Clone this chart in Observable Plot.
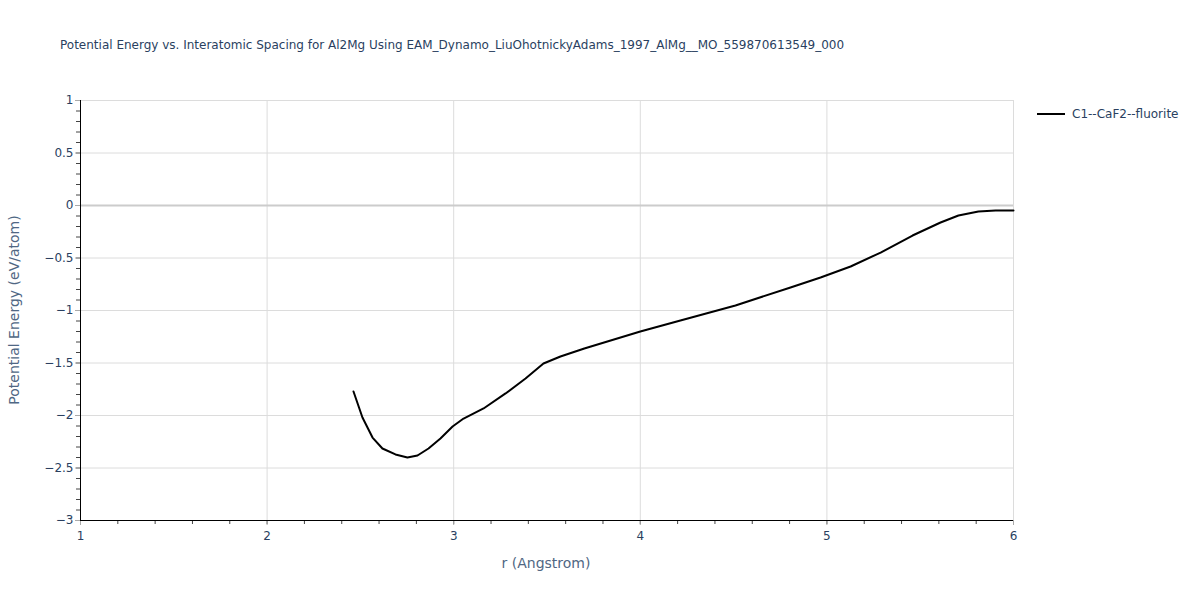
<!DOCTYPE html>
<html>
<head>
<meta charset="utf-8">
<script src="https://cdn.jsdelivr.net/npm/d3@7"></script>
<script src="https://cdn.jsdelivr.net/npm/@observablehq/plot@0.6"></script>
<style>
  body { margin: 0; background: #fff; font-family: "DejaVu Sans", Verdana, sans-serif; }
  #wrap { position: relative; width: 1200px; height: 600px; }
  #title { position: absolute; left: 60px; top: 38px; font-size: 12px; color: #2a3f5f; white-space: nowrap; }
  #legend { position: absolute; left: 1037px; top: 107px; font-size: 12px; color: #2a3f5f; display: flex; align-items: center; white-space: nowrap; }
  #legend .sw { width: 28px; height: 2px; background: #000; margin-right: 7px; }
  #ylab { position: absolute; left: 14px; top: 310px; transform: translate(-50%, -50%) rotate(-90deg); font-size: 14px; color: #506784; white-space: nowrap; }
  #xlab { position: absolute; left: 546px; top: 563px; transform: translate(-50%, -50%); font-size: 14px; color: #506784; white-space: nowrap; }
</style>
</head>
<body>
<div id="wrap">
  <div id="chart"></div>
  <div id="title">Potential Energy vs. Interatomic Spacing for Al2Mg Using EAM_Dynamo_LiuOhotnickyAdams_1997_AlMg__MO_559870613549_000</div>
  <div id="legend"><span class="sw"></span><span>C1--CaF2--fluorite</span></div>
  <div id="ylab">Potential Energy (eV/atom)</div>
  <div id="xlab">r (Angstrom)</div>
</div>
<script>
const seriesName = "C1--CaF2--fluorite";
const r = [2.463, 2.511, 2.565, 2.618, 2.688, 2.752, 2.806, 2.865, 2.929, 2.994, 3.053, 3.16, 3.278, 3.385, 3.481, 3.572, 3.70, 4.0, 4.215, 4.51, 4.805, 4.966, 5.127, 5.288, 5.459, 5.609, 5.705, 5.812, 5.904, 6.0];
const energy = [-1.771, -2.019, -2.21, -2.314, -2.371, -2.40, -2.381, -2.314, -2.219, -2.105, -2.029, -1.933, -1.79, -1.648, -1.505, -1.438, -1.362, -1.2, -1.095, -0.952, -0.781, -0.686, -0.581, -0.448, -0.286, -0.162, -0.095, -0.057, -0.048, -0.048];
const xTicks = [1, 2, 3, 4, 5, 6];
const yTicks = [1, 0.5, 0, -0.5, -1, -1.5, -2, -2.5, -3];
const xMinor = d3.range(1, 6.001, 0.2).map(v => +v.toFixed(1));
const yMinor = d3.range(-3, 1.001, 0.1).map(v => +v.toFixed(1));

const data = r.map((x, i) => ({ r: x, e: energy[i] }));
const tickColor = "#2a3f5f";

const chart = Plot.plot({
  width: 1200,
  height: 600,
  marginLeft: 80,
  marginRight: 187,
  marginTop: 100,
  marginBottom: 80,
  style: { fontFamily: "'DejaVu Sans', Verdana, sans-serif", fontSize: "12px", background: "#fff" },
  x: { domain: [1, 6] },
  y: { domain: [-3, 1] },
  marks: [
    Plot.gridX(xTicks.filter(v => v !== 1), { stroke: "#dcdcdc", strokeOpacity: 1, strokeWidth: 1 }),
    Plot.gridY(yTicks.filter(v => v !== -3 && v !== 0), { stroke: "#dcdcdc", strokeOpacity: 1, strokeWidth: 1 }),
    Plot.ruleY([0], { stroke: "#cccccc", strokeWidth: 2 }),
    Plot.axisX(xMinor, { tickSize: 4, tickFormat: () => "", stroke: "#444", label: null }),
    Plot.axisY(yMinor, { tickSize: 4, tickFormat: () => "", stroke: "#444", label: null }),
    Plot.axisX(xTicks, { tickSize: 5, tickPadding: 6, stroke: "#aaa", fill: tickColor, label: null, tickFormat: d => d3.format("")(d).replace("-", "−") }),
    Plot.axisY(yTicks, { tickSize: 5, tickPadding: 2, stroke: "#aaa", fill: tickColor, label: null, tickFormat: d => String(d).replace("-", "−") }),
    Plot.ruleX([1], { stroke: "#000", strokeWidth: 1 }),
    Plot.ruleY([-3], { stroke: "#000", strokeWidth: 1 }),
    Plot.line(data, { x: "r", y: "e", stroke: "#000", strokeWidth: 2 })
  ]
});
document.getElementById("chart").appendChild(chart);
</script>
</body>
</html>
